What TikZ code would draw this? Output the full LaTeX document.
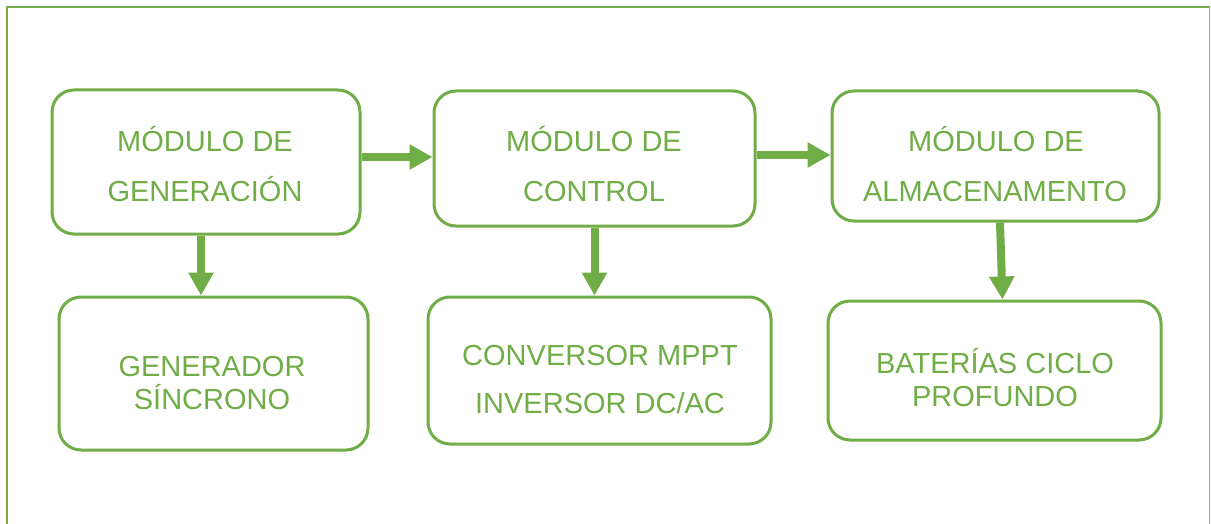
\documentclass[tikz,border=0pt]{standalone}
\usepackage{fontspec}
\setmainfont{Liberation Sans}
\usetikzlibrary{arrows.meta}
\definecolor{ogreen}{HTML}{70AD47}
\tikzset{
  box/.style={draw=ogreen, line width=3pt, rounded corners=22pt, inner sep=0pt, fill=white},
  lbl/.style={text=ogreen, anchor=base, inner sep=0pt, font=\fontsize{29}{34}\selectfont},
  flow/.style={draw=ogreen, line width=8pt, -{Triangle[length=23pt,width=24pt]}},
}
\begin{document}
\begin{tikzpicture}[x=1pt,y=-1pt]
\useasboundingbox (0,0) rectangle (1211,524);
\fill[white] (0,0) rectangle (1211,524);
% frame
\draw[ogreen, line width=2.7pt] (7,524) -- (7,7) -- (1209.5,7);
\draw[ogreen!80!white, line width=1.6pt] (1209.5,7) -- (1209.5,524);
% boxes
\node[box, minimum width=308pt, minimum height=144pt] (b1) at (206,162) {};
\node[box, minimum width=321pt, minimum height=135pt] (b2) at (594.5,158.5) {};
\node[box, minimum width=327pt, minimum height=130pt] (b3) at (995.5,156) {};
\node[box, minimum width=309pt, minimum height=153pt] (b4) at (213.5,373.5) {};
\node[box, minimum width=343pt, minimum height=147pt] (b5) at (599.5,370.5) {};
\node[box, minimum width=333pt, minimum height=139pt] (b6) at (994.5,370.5) {};
% labels
\node[lbl] (t1a) at (205,152) {MÓDULO DE};
\node[lbl] (t1b) at (205,202) {GENERACIÓN};
\node[lbl] (t2a) at (594,152) {MÓDULO DE};
\node[lbl] (t2b) at (594,202) {CONTROL};
\node[lbl] (t3a) at (996,152) {MÓDULO DE};
\node[lbl] (t3b) at (995,202) {ALMACENAMENTO};
\node[lbl] (t4a) at (212,376) {GENERADOR};
\node[lbl] (t4b) at (212,409) {SÍNCRONO};
\node[lbl] (t5a) at (600,365) {CONVERSOR MPPT};
\node[lbl] (t5b) at (600,413) {INVERSOR DC/AC};
\node[lbl] (t6a) at (995,373) {BATERÍAS CICLO};
\node[lbl] (t6b) at (995,406) {PROFUNDO};
% connectors
\draw[flow] (b1.east |- 0,157) -- (b2.west |- 0,157);
\draw[flow] (b2.east |- 0,155) -- (b3.west |- 0,155);
\draw[flow] ([xshift=-5pt]b1.south) -- ([xshift=-12.5pt]b4.north);
\draw[flow] (b2.south) -- ([xshift=-5pt]b5.north);
\draw[flow] ([xshift=4.5pt]b3.south) -- ([xshift=8pt]b6.north);
\end{tikzpicture}
\end{document}
